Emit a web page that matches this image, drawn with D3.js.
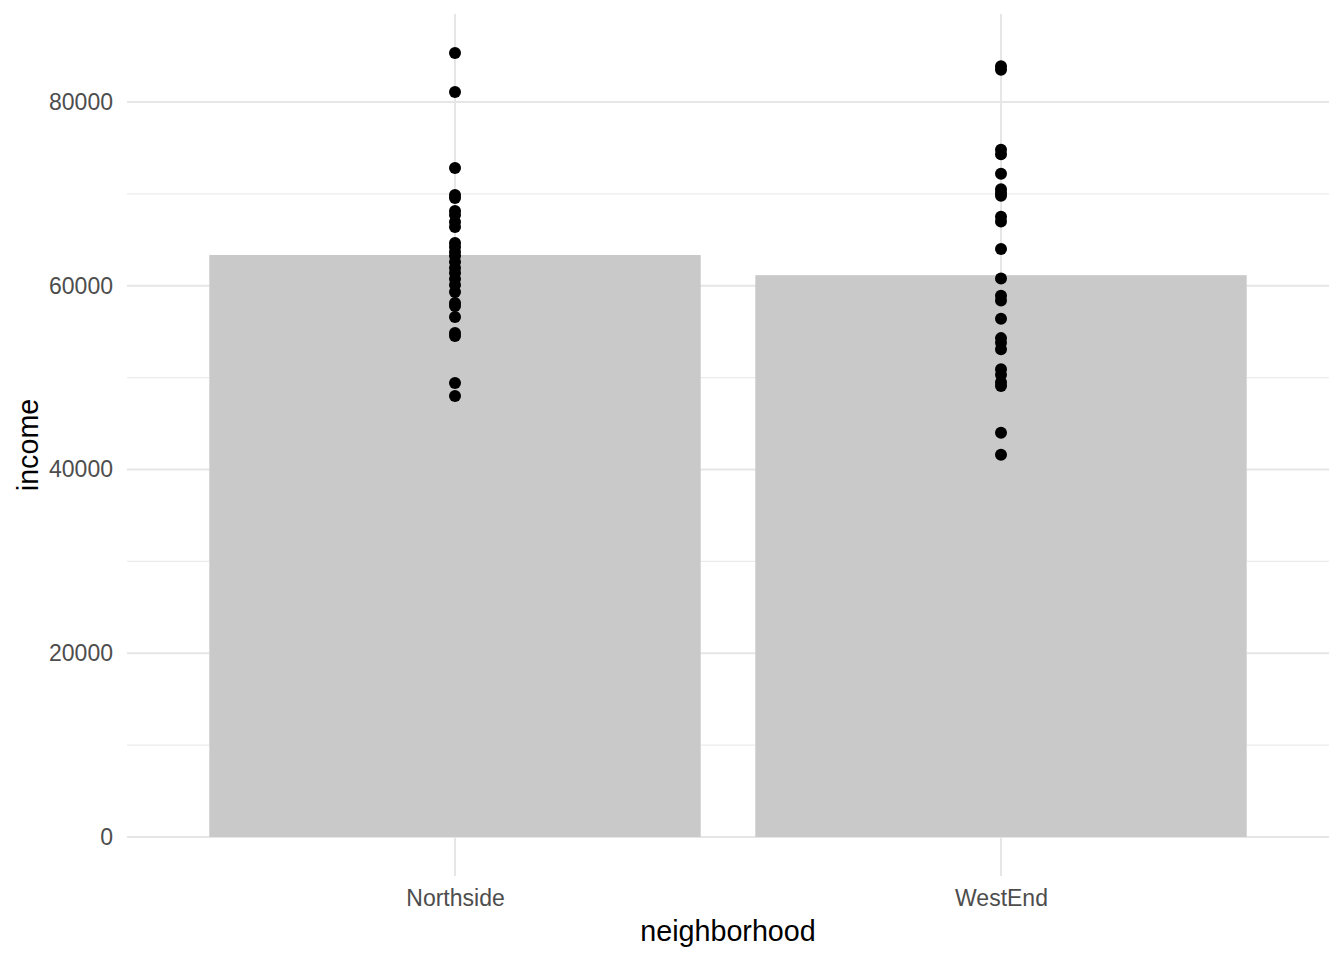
<!DOCTYPE html>
<html><head><meta charset="utf-8">
<script src="https://cdn.jsdelivr.net/npm/d3@7"></script>
<style>body{margin:0;background:#fff;} svg{display:block;font-family:"Liberation Sans",Arial,sans-serif;}</style>
</head><body><svg id="c" width="1344" height="960"></svg>
<script>
const categories = ["Northside", "WestEnd"];
const barMeans = [63350, 61150];
const northsideIncome = [85330, 81090, 72820, 69880, 69550, 68140, 67700, 66940, 66390, 64650, 64220, 63670, 63240, 62590, 61930, 61390, 60730, 60080, 59320, 58120, 57800, 56600, 54860, 54530, 49410, 48000];
const westEndIncome = [83900, 83500, 74800, 74300, 72200, 70500, 70100, 69800, 67500, 67000, 64000, 60800, 58900, 58400, 56400, 54300, 53800, 53100, 50900, 50300, 49500, 49100, 44000, 41600];
const yTicks = [0, 20000, 40000, 60000, 80000];
const yMinor = [10000, 30000, 50000, 70000];

const pointsByCat = [northsideIncome, westEndIncome];
const svg = d3.select("#c");
const panel = {left: 127, right: 1329, top: 14, bottom: 876};

const x = d3.scalePoint().domain(categories).range([455, 1001]);
const step = 546;
const barW = step * 0.9;
const y = d3.scaleLinear().domain([0, 80000]).range([837, 102]);

// minor grid
svg.append("g").selectAll("line").data(yMinor).join("line")
  .attr("x1", panel.left).attr("x2", panel.right)
  .attr("y1", d => y(d)).attr("y2", d => y(d))
  .attr("stroke", "#ebebeb").attr("stroke-width", 1.1);
// major grid
svg.append("g").selectAll("line").data(yTicks).join("line")
  .attr("x1", panel.left).attr("x2", panel.right)
  .attr("y1", d => y(d)).attr("y2", d => y(d))
  .attr("stroke", "#e6e6e6").attr("stroke-width", 2.1);
svg.append("g").selectAll("line").data(categories).join("line")
  .attr("x1", d => x(d)).attr("x2", d => x(d))
  .attr("y1", panel.top).attr("y2", panel.bottom)
  .attr("stroke", "#e6e6e6").attr("stroke-width", 2.1);

// bars
svg.append("g").selectAll("rect").data(categories).join("rect")
  .attr("x", d => x(d) - barW / 2).attr("width", barW)
  .attr("y", (d, i) => y(barMeans[i])).attr("height", (d, i) => y(0) - y(barMeans[i]))
  .attr("fill", "#c9c9c9");

// points
const pts = [];
categories.forEach((c, i) => pointsByCat[i].forEach(v => pts.push({c, v})));
svg.append("g").selectAll("circle").data(pts).join("circle")
  .attr("cx", d => x(d.c)).attr("cy", d => y(d.v)).attr("r", 6).attr("fill", "#000");

// axes
const yAxis = d3.axisLeft(y).tickValues(yTicks).tickFormat(d3.format("d")).tickSize(0).tickPadding(0);
const gy = svg.append("g").attr("transform", `translate(${panel.left - 14},0)`).call(yAxis);
gy.select(".domain").remove();
gy.selectAll("text").attr("font-size", 23).attr("fill", "#4d4d4d").attr("font-family", "Liberation Sans, Arial, sans-serif");

const xAxis = d3.axisBottom(x).tickSize(0).tickPadding(0);
const gx = svg.append("g").attr("transform", `translate(0,${panel.bottom + 14})`).call(xAxis);
gx.select(".domain").remove();
gx.selectAll("text").attr("font-size", 23).attr("fill", "#4d4d4d").attr("font-family", "Liberation Sans, Arial, sans-serif");

svg.append("text").attr("x", (panel.left + panel.right) / 2).attr("y", 941)
  .attr("text-anchor", "middle").attr("font-size", 28.7).attr("fill", "#000").text("neighborhood");
svg.append("text").attr("transform", `translate(38,${(panel.top + panel.bottom) / 2}) rotate(-90)`)
  .attr("text-anchor", "middle").attr("font-size", 28.7).attr("fill", "#000").text("income");
</script></body></html>
